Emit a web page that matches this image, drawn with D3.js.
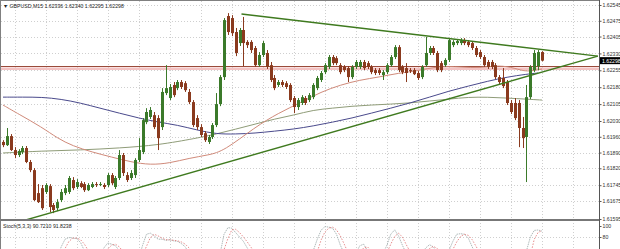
<!DOCTYPE html>
<html>
<head>
<meta charset="utf-8">
<script src="https://cdn.jsdelivr.net/npm/d3@7"></script>
<style>
  body { margin: 0; background: #fff; }
  svg { display: block; font-family: "Liberation Sans", Arial, sans-serif; }
</style>
</head>
<body>
<div id="chart"></div>
<script>
// GBPUSD M15 candles
const open = [
  1.61937,1.61923,1.61963,1.61901,1.61879,1.61892,1.61910,1.61848,1.61812,1.61710,
  1.61732,1.61715,1.61741,1.61657,1.61643,1.61679,1.61710,1.61715,1.61768,1.61737,
  1.61754,1.61750,1.61723,1.61737,1.61750,1.61746,1.61746,1.61746,1.61790,1.61737,
  1.61777,1.61879,1.61790,1.61777,1.61790,1.61857,1.61892,1.62025,1.62048,1.62056,
  1.62043,1.62003,1.62154,1.62132,1.62190,1.62176,1.62203,1.62198,1.62159,1.62114,
  1.62043,1.62003,1.61976,1.61937,1.61959,1.62012,1.62105,1.62225,1.62496,1.62487,
  1.62425,1.62376,1.62434,1.62381,1.62381,1.62354,1.62278,1.62323,1.62332,1.62278,
  1.62221,1.62190,1.62203,1.62198,1.62190,1.62132,1.62092,1.62110,1.62132,1.62123,
  1.62136,1.62176,1.62212,1.62247,1.62270,1.62314,1.62309,1.62278,1.62270,1.62265,
  1.62225,1.62270,1.62270,1.62292,1.62287,1.62270,1.62256,1.62256,1.62234,1.62247,
  1.62278,1.62314,1.62358,1.62270,1.62265,1.62256,1.62256,1.62243,1.62225,1.62278,
  1.62332,1.62354,1.62332,1.62287,1.62278,1.62301,1.62367,1.62376,1.62376,1.62389,
  1.62381,1.62376,1.62354,1.62336,1.62314,1.62292,1.62292,1.62278,1.62225,1.62221,
  1.62203,1.62110,1.62110,1.62110,1.61999,1.61959,1.62136,1.62256,1.62274,1.62336
];
const high = [
  1.61945,1.61999,1.61972,1.61914,1.61905,1.61919,1.61919,1.61857,1.61821,1.61750,
  1.61746,1.61754,1.61750,1.61666,1.61683,1.61728,1.61746,1.61786,1.61781,1.61772,
  1.61763,1.61759,1.61754,1.61759,1.61759,1.61759,1.61754,1.61799,1.61799,1.61786,
  1.61901,1.61888,1.61803,1.61812,1.61865,1.61954,1.62043,1.62087,1.62092,1.62070,
  1.62056,1.62176,1.62278,1.62194,1.62203,1.62212,1.62212,1.62207,1.62172,1.62123,
  1.62056,1.62016,1.61985,1.61968,1.62021,1.62154,1.62234,1.62487,1.62509,1.62500,
  1.62443,1.62443,1.62492,1.62389,1.62389,1.62363,1.62336,1.62385,1.62345,1.62292,
  1.62234,1.62212,1.62212,1.62207,1.62198,1.62141,1.62132,1.62145,1.62141,1.62154,
  1.62198,1.62230,1.62252,1.62287,1.62323,1.62323,1.62318,1.62287,1.62278,1.62274,
  1.62278,1.62301,1.62301,1.62301,1.62296,1.62278,1.62265,1.62265,1.62256,1.62287,
  1.62323,1.62367,1.62367,1.62278,1.62287,1.62265,1.62265,1.62252,1.62278,1.62403,
  1.62363,1.62363,1.62341,1.62296,1.62309,1.62398,1.62389,1.62394,1.62398,1.62398,
  1.62389,1.62385,1.62363,1.62345,1.62323,1.62301,1.62301,1.62287,1.62234,1.62265,
  1.62212,1.62123,1.62132,1.62123,1.62048,1.62190,1.62278,1.62345,1.62345,1.62340
];
const low = [
  1.61914,1.61919,1.61897,1.61865,1.61870,1.61883,1.61843,1.61803,1.61675,1.61666,
  1.61635,1.61706,1.61626,1.61621,1.61630,1.61670,1.61701,1.61706,1.61723,1.61728,
  1.61732,1.61715,1.61719,1.61732,1.61737,1.61741,1.61728,1.61737,1.61746,1.61728,
  1.61768,1.61786,1.61759,1.61768,1.61777,1.61848,1.61883,1.62016,1.62039,1.61994,
  1.61901,1.61990,1.62145,1.62123,1.62136,1.62167,1.62172,1.62159,1.62105,1.62003,
  1.61990,1.61959,1.61937,1.61928,1.61950,1.62003,1.62096,1.62212,1.62412,1.62407,
  1.62318,1.62363,1.62274,1.62354,1.62332,1.62270,1.62270,1.62314,1.62261,1.62203,
  1.62167,1.62181,1.62181,1.62172,1.62114,1.62065,1.62079,1.62101,1.62101,1.62114,
  1.62127,1.62167,1.62203,1.62238,1.62261,1.62278,1.62278,1.62238,1.62247,1.62203,
  1.62216,1.62261,1.62261,1.62256,1.62261,1.62238,1.62234,1.62234,1.62212,1.62238,
  1.62270,1.62305,1.62247,1.62238,1.62203,1.62243,1.62234,1.62212,1.62216,1.62270,
  1.62323,1.62323,1.62247,1.62247,1.62270,1.62292,1.62358,1.62367,1.62367,1.62367,
  1.62358,1.62345,1.62314,1.62305,1.62270,1.62261,1.62261,1.62216,1.62194,1.62176,
  1.62101,1.62061,1.62034,1.61914,1.61910,1.61759,1.62127,1.62247,1.62256,1.62295
];
const close = [
  1.61923,1.61963,1.61901,1.61879,1.61897,1.61910,1.61848,1.61812,1.61679,1.61670,
  1.61643,1.61746,1.61648,1.61635,1.61670,1.61715,1.61732,1.61777,1.61732,1.61759,
  1.61737,1.61723,1.61746,1.61750,1.61746,1.61750,1.61737,1.61790,1.61754,1.61777,
  1.61879,1.61799,1.61768,1.61799,1.61857,1.61901,1.62034,1.62070,1.62079,1.62003,
  1.61954,1.62159,1.62176,1.62181,1.62145,1.62203,1.62181,1.62167,1.62114,1.62012,
  1.62003,1.61968,1.61945,1.61959,1.62012,1.62105,1.62225,1.62478,1.62425,1.62420,
  1.62332,1.62434,1.62376,1.62367,1.62345,1.62278,1.62323,1.62376,1.62270,1.62212,
  1.62176,1.62203,1.62190,1.62181,1.62123,1.62092,1.62123,1.62136,1.62110,1.62145,
  1.62190,1.62221,1.62243,1.62278,1.62314,1.62287,1.62287,1.62247,1.62256,1.62225,
  1.62270,1.62292,1.62292,1.62265,1.62270,1.62247,1.62243,1.62243,1.62247,1.62278,
  1.62314,1.62358,1.62256,1.62247,1.62243,1.62252,1.62238,1.62221,1.62270,1.62332,
  1.62354,1.62332,1.62256,1.62256,1.62301,1.62389,1.62381,1.62385,1.62389,1.62376,
  1.62367,1.62354,1.62323,1.62314,1.62278,1.62270,1.62270,1.62225,1.62203,1.62185,
  1.62110,1.62070,1.62043,1.61999,1.61954,1.62136,1.62270,1.62332,1.62336,1.62298
];

// moving averages, sampled at candle indices
const maFastIdx = [0,4,10,14,18,23,28,33,38,43,48,53,57,65,71,77,82,87,92,97,102,107,112,118,123,128,132,135,139];
const maFast = [1.62101,1.62061,1.62003,1.61954,1.61919,1.61892,1.61870,1.61848,1.61835,1.61843,1.61865,1.61879,1.61897,
  1.62003,1.62065,1.62114,1.62159,1.62190,1.62212,1.62225,1.62243,1.62252,1.62274,1.62270,1.62265,1.62278,1.62265,1.62247,1.62261];
const maSlowIdx = [0,5,10,15,20,25,30,35,40,45,50,55,60,65,70,75,80,85,90,95,100,105,110,115,120,125,130,135,138];
const maSlow = [1.62136,1.62136,1.62136,1.62127,1.62110,1.62087,1.62065,1.62043,1.62025,1.62012,1.61990,1.61972,1.61972,
  1.61976,1.61985,1.61994,1.62008,1.62025,1.62043,1.62065,1.62087,1.62110,1.62136,1.62163,1.62185,1.62207,1.62225,1.62238,1.62243];
const maMidIdx = [0,10,20,30,40,50,55,60,65,70,75,80,85,90,95,100,105,110,115,120,125,130,135,139];
const maMid = [1.61888,1.61897,1.61901,1.61910,1.61923,1.61954,1.61972,1.61994,1.62016,1.62039,1.62056,1.62079,
  1.62087,1.62096,1.62101,1.62105,1.62110,1.62119,1.62127,1.62136,1.62136,1.62132,1.62127,1.62123];

// trend lines [index, price]
const trendLower = [[4.9, 1.61586], [153.4, 1.62318]];
const trendUpper = [[61.5, 1.62505], [153.4, 1.62318]];
const levelPrice = 1.62272;

// stochastic (5,3,3)
const stochMain = [
  45,52,40,28,30,35,25,15,8,10, 8,15,12,14,40,62,76,79,78,77,
  70,55,40,35,32,45,60,69,67,64, 55,40,30,28,35,40,65,85,87,82,
  76,76,74,75,73,72,68,62,50,35, 25,15,10,12,20,35,50,85,97,96,
  88,80,72,60,50,38,35,40,30,20, 12,15,14,12,8,5,10,15,14,25,
  55,75,92,99,98,96,85,65,50,38, 42,50,64,67,55,42,35,38,50,65,
  85,93,82,65,50,45,42,38,50,60, 66,62,50,40,45,55,72,85,86,85,
  78,62,48,40,30,22,20,15,10,8, 5,4,3,3,4,55,80,92,92.76,90.721
];
const stochSignal = [
  48,50,46,40,33,31,30,25,16,11, 9,11,12,14,22,39,59,72,78,78,
  75,67,55,43,36,37,46,58,65,67, 62,53,42,33,31,34,47,63,79,85,
  82,78,75,75,74,73,71,67,60,49, 37,25,17,12,14,22,35,57,77,93,
  94,88,80,71,61,49,41,38,35,30, 21,16,14,14,11,8,8,10,13,18,
  31,52,74,89,96,98,93,82,67,51, 43,43,52,60,62,55,44,38,41,51,
  67,81,87,80,66,53,46,42,43,49, 59,63,59,51,45,47,57,71,81,85,
  83,75,63,50,39,31,24,19,15,11, 8,6,4,3,3,21,46,76,88.25,91.8238
];

const priceTicks = [1.62545,1.62475,1.62405,1.62330,1.62255,1.62180,1.62105,1.62030,1.61960,1.61890,1.61820,1.61745,1.61675,1.61595];
const stochTicks = [100, 80];
const lastPrice = 1.62298;

const W = 620, H = 249;
const plotRight = 599, mainTop = 1, mainBottom = 219, subTop = 221;

const svg = d3.select("#chart").append("svg")
  .attr("width", W).attr("height", H);

const x = d3.scaleLinear().domain([0, 139]).range([3, 542]);
const y = d3.scaleLinear().domain([1.61595, 1.62545]).range([219, 5]);
const ys = d3.scaleLinear().domain([0, 100]).range([281, 226]);

const defs = svg.append("defs");
defs.append("clipPath").attr("id", "clipMain").append("rect")
  .attr("x", 0).attr("y", mainTop).attr("width", plotRight).attr("height", mainBottom - mainTop);
defs.append("clipPath").attr("id", "clipSub").append("rect")
  .attr("x", 0).attr("y", subTop).attr("width", plotRight).attr("height", H - subTop);

// grid
const grid = svg.append("g").attr("stroke", "#cfcfcf").attr("stroke-dasharray", "1,2").attr("stroke-width", 1);
const vIdx = d3.range(3, 154, 8);
grid.selectAll(".vg").data(vIdx).join("line")
  .attr("x1", d => Math.round(x(d)) + 0.5).attr("x2", d => Math.round(x(d)) + 0.5)
  .attr("y1", mainTop).attr("y2", H);
grid.selectAll(".hg").data(priceTicks.slice(0, -1)).join("line")
  .attr("x1", 1).attr("x2", plotRight)
  .attr("y1", d => Math.round(y(d)) + 0.5).attr("y2", d => Math.round(y(d)) + 0.5);
grid.append("line").attr("x1", 1).attr("x2", plotRight)
  .attr("y1", Math.round(ys(80)) + 0.5).attr("y2", Math.round(ys(80)) + 0.5);

const main = svg.append("g").attr("clip-path", "url(#clipMain)");

// horizontal level
main.append("rect").attr("x", 0).attr("width", plotRight)
  .attr("y", y(levelPrice) + 1).attr("height", 2.5).attr("fill", "#f3c2c2");
main.append("line").attr("x1", 0).attr("x2", plotRight)
  .attr("y1", y(levelPrice)).attr("y2", y(levelPrice))
  .attr("stroke", "#9a4a3a").attr("stroke-width", 1.2);

// moving averages
const maLine = d3.line().x(d => x(d[0])).y(d => y(d[1])).curve(d3.curveBasis);
function drawMa(idx, vals, color) {
  main.append("path").datum(idx.map((d, i) => [d, vals[i]]))
    .attr("d", maLine).attr("fill", "none").attr("stroke", color).attr("stroke-width", 1);
}
drawMa(maMidIdx, maMid, "#8f9c78");
drawMa(maSlowIdx, maSlow, "#4a4a8c");
drawMa(maFastIdx, maFast, "#d08a7a");

// candles
const idx = d3.range(open.length);
const bull = "#3b7a2a", bear = "#8a3a1e";
const colorOf = i => close[i] >= open[i] ? bull : bear;
main.selectAll(".wick").data(idx).join("line")
  .attr("x1", i => Math.round(x(i)) + 0.5).attr("x2", i => Math.round(x(i)) + 0.5)
  .attr("y1", i => y(high[i])).attr("y2", i => y(low[i]))
  .attr("stroke", colorOf).attr("stroke-width", 1);
main.selectAll(".body").data(idx).join("rect")
  .attr("x", i => Math.round(x(i)) - 1)
  .attr("width", 3)
  .attr("y", i => y(Math.max(open[i], close[i])))
  .attr("height", i => Math.max(1, Math.abs(y(open[i]) - y(close[i]))))
  .attr("fill", colorOf);

// trend lines
const tl = d3.line().x(d => x(d[0])).y(d => y(d[1]));
[trendLower, trendUpper].forEach(t => {
  main.append("path").datum(t).attr("d", tl)
    .attr("fill", "none").attr("stroke", "#3f7a1f").attr("stroke-width", 1.4);
});

// stochastic panel
const sub = svg.append("g").attr("clip-path", "url(#clipSub)");
const sl = d3.line().x((d, i) => x(i)).y(d => ys(d));
sub.append("path").datum(stochMain).attr("d", sl).attr("fill", "none")
  .attr("stroke", "#9aa8a8").attr("stroke-width", 0.8).attr("stroke-dasharray", "1.5,0.8");
sub.append("path").datum(stochSignal).attr("d", sl).attr("fill", "none")
  .attr("stroke", "#e07070").attr("stroke-width", 0.8).attr("stroke-dasharray", "1.5,1.5");

// frames
svg.append("line").attr("x1", 0.5).attr("x2", 0.5).attr("y1", 0).attr("y2", H).attr("stroke", "#808080");
svg.append("line").attr("x1", 0).attr("x2", plotRight).attr("y1", 0.5).attr("y2", 0.5).attr("stroke", "#808080");
svg.append("line").attr("x1", 0).attr("x2", plotRight + 1).attr("y1", 220).attr("y2", 220)
  .attr("stroke", "#777").attr("stroke-width", 2);
svg.append("line").attr("x1", plotRight + 0.5).attr("x2", plotRight + 0.5).attr("y1", 0).attr("y2", H)
  .attr("stroke", "#555");

// price axis
const axis = svg.append("g").attr("transform", `translate(${plotRight + 0.5},0)`)
  .call(d3.axisRight(y).tickValues(priceTicks).tickFormat(d3.format(".5f")).tickSize(2).tickPadding(1));
axis.select(".domain").remove();
axis.selectAll("text").attr("font-size", 5.2).attr("fill", "#333").attr("font-family", "Liberation Sans, Arial, sans-serif");
axis.selectAll("line").attr("stroke", "#555");

const sAxis = svg.append("g").attr("transform", `translate(${plotRight + 0.5},0)`)
  .call(d3.axisRight(ys).tickValues(stochTicks).tickSize(2).tickPadding(1));
sAxis.select(".domain").remove();
sAxis.selectAll("text").attr("font-size", 5.2).attr("fill", "#333").attr("font-family", "Liberation Sans, Arial, sans-serif");
sAxis.selectAll("line").attr("stroke", "#555");

// current price box
const py = y(lastPrice);
svg.append("rect").attr("x", plotRight + 1).attr("y", py - 3.5).attr("width", W - plotRight - 1).attr("height", 7)
  .attr("fill", "#000");
svg.append("text").attr("x", plotRight + 3).attr("y", py + 1.9)
  .attr("font-size", 5.2).attr("fill", "#fff").text(d3.format(".5f")(lastPrice));

// titles
svg.append("text").attr("x", 3).attr("y", 7.5).attr("font-size", 5.2).attr("fill", "#222")
  .text("▼ GBPUSD,M15 1.62336 1.62340 1.62295 1.62298");
svg.append("text").attr("x", 3).attr("y", 228).attr("font-size", 5.2).attr("fill", "#222")
  .text("Stoch(5,3,3) 90.7210 91.8238");
</script>
</body>
</html>
